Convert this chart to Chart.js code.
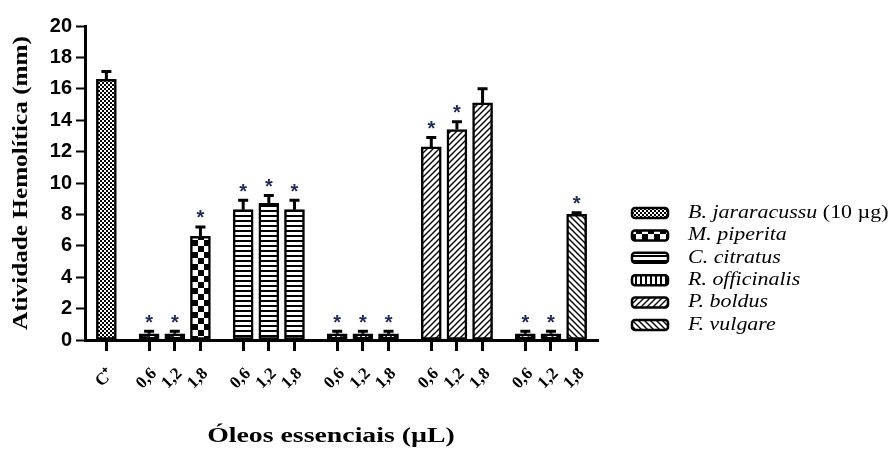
<!DOCTYPE html>
<html>
<head>
<meta charset="utf-8">
<script src="https://cdn.jsdelivr.net/npm/chart.js@4.4.1/dist/chart.umd.min.js"></script>
<style>
html, body { margin: 0; padding: 0; background: #fff; }
#wrap { width: 892px; height: 450px; }
</style>
</head>
<body>
<div id="wrap"><canvas id="barChart" width="892" height="450"></canvas></div>
<script>
// Rótulos e valores
var controlLabel = 'C\u207A';
var doseLabels = ['0,6', '1,2', '1,8'];
var seriesNames = ['B. jararacussu', 'M. piperita', 'C. citratus', 'R. officinalis', 'P. boldus', 'F. vulgare'];
var controlDose = ' (10 \u00B5g)';
var xTitle = 'Óleos essenciais (µL)';
var yTitle = 'Atividade Hemolítica (mm)';
var yTicks = [0, 2, 4, 6, 8, 10, 12, 14, 16, 18, 20];

var jararacussuValues = [16.6];
var jararacussuErrors = [0.5];
var jararacussuStars = [false];

var piperitaValues = [0.4, 0.4, 6.6];
var piperitaErrors = [0.15, 0.15, 0.6];
var piperitaStars = [true, true, true];

var citratusValues = [8.3, 8.7, 8.3];
var citratusErrors = [0.6, 0.5, 0.6];
var citratusStars = [true, true, true];

var officinalisValues = [0.4, 0.4, 0.4];
var officinalisErrors = [0.15, 0.15, 0.15];
var officinalisStars = [true, true, true];

var boldusValues = [12.3, 13.4, 15.1];
var boldusErrors = [0.6, 0.5, 0.9];
var boldusStars = [true, true, false];

var vulgareValues = [0.4, 0.4, 8.0];
var vulgareErrors = [0.15, 0.15, 0.1];
var vulgareStars = [true, true, true];

// Padrões de preenchimento (hachuras)
function makePattern(type) {
    var t = document.createElement('canvas');
    var s = 6;
    if (type === 'fine') s = 4;
    if (type === 'checker') s = 12;
    if (type === 'hline' || type === 'vline') s = 5;
    t.width = s; t.height = s;
    var c = t.getContext('2d');
    c.fillStyle = '#fff';
    c.fillRect(0, 0, s, s);
    c.fillStyle = '#000';
    c.strokeStyle = '#000';
    if (type === 'fine') {
        c.fillRect(0, 0, 2, 2);
        c.fillRect(2, 2, 2, 2);
    } else if (type === 'checker') {
        c.fillRect(0, 0, 6, 6);
        c.fillRect(6, 6, 6, 6);
    } else if (type === 'hline') {
        c.fillRect(0, 0, s, 2);
    } else if (type === 'vline') {
        c.fillRect(0, 0, 2, s);
    } else if (type === 'up' || type === 'down') {
        c.lineWidth = 1.4;
        c.beginPath();
        if (type === 'up') {
            c.moveTo(-1, s + 1); c.lineTo(s + 1, -1);
            c.moveTo(-1, 1); c.lineTo(1, -1);
            c.moveTo(s - 1, s + 1); c.lineTo(s + 1, s - 1);
        } else {
            c.moveTo(-1, -1); c.lineTo(s + 1, s + 1);
            c.moveTo(s - 1, -1); c.lineTo(s + 1, 1);
            c.moveTo(-1, s - 1); c.lineTo(1, s + 1);
        }
        c.stroke();
    }
    return c.createPattern(t, 'repeat');
}

var groups = [
    { name: seriesNames[0], cats: [controlLabel], values: jararacussuValues, errors: jararacussuErrors, stars: jararacussuStars, fill: 'fine' },
    { name: seriesNames[1], cats: doseLabels, values: piperitaValues, errors: piperitaErrors, stars: piperitaStars, fill: 'checker' },
    { name: seriesNames[2], cats: doseLabels, values: citratusValues, errors: citratusErrors, stars: citratusStars, fill: 'hline' },
    { name: seriesNames[3], cats: doseLabels, values: officinalisValues, errors: officinalisErrors, stars: officinalisStars, fill: 'vline' },
    { name: seriesNames[4], cats: doseLabels, values: boldusValues, errors: boldusErrors, stars: boldusStars, fill: 'up' },
    { name: seriesNames[5], cats: doseLabels, values: vulgareValues, errors: vulgareErrors, stars: vulgareStars, fill: 'down' }
];

// eixo de categorias com espaços vazios entre os grupos
var labels = [];
function pad(n) { for (var i = 0; i < n; i++) labels.push(''); }
pad(2);
groups.forEach(function (g, gi) {
    g.index = [];
    g.cats.forEach(function (lab, j) {
        if (gi > 0 || j > 0) pad(j === 0 ? 4 : 2);
        g.index.push(labels.length);
        labels.push(lab);
    });
});
pad(2);

var datasets = groups.map(function (g) {
    var data = labels.map(function () { return null; });
    g.index.forEach(function (idx, j) { data[idx] = g.values[j]; });
    return {
        label: g.name,
        data: data,
        errors: g.errors,
        stars: g.stars,
        slots: g.index,
        backgroundColor: makePattern(g.fill),
        borderColor: '#000',
        // barras muito baixas ficam totalmente pretas, como no original
        borderWidth: function (c) { return c.raw !== null && c.raw < 1 ? 5 : 2.5; },
        borderSkipped: false,
        barThickness: 20,
        grouped: false
    };
});

// barras de erro e asteriscos
var errorBars = {
    id: 'errorBars',
    afterDatasetsDraw: function (chart) {
        var c = chart.ctx;
        var yScale = chart.scales.y;
        chart.data.datasets.forEach(function (ds, di) {
            var meta = chart.getDatasetMeta(di);
            ds.slots.forEach(function (idx, j) {
                var el = meta.data[idx];
                var v = ds.data[idx];
                var top = yScale.getPixelForValue(v + ds.errors[j]);
                c.save();
                c.strokeStyle = '#000';
                c.lineWidth = 3;
                c.beginPath();
                c.moveTo(el.x, el.y);
                c.lineTo(el.x, top);
                c.moveTo(el.x - 5, top);
                c.lineTo(el.x + 5, top);
                c.stroke();
                if (ds.stars[j]) {
                    c.fillStyle = '#1f2a55';
                    c.font = 'bold 20px "Liberation Sans"';
                    c.textAlign = 'center';
                    c.textBaseline = 'middle';
                    c.fillText('*', el.x, top - 8);
                }
                c.restore();
            });
        });
    }
};

// texto esticado na horizontal, como no original
function wideText(c, text, x, y, sx) {
    c.save();
    c.translate(x, y);
    c.scale(sx, 1);
    c.fillText(text, 0, 0);
    c.restore();
}

// títulos dos eixos e legenda ao lado
var sideLegend = {
    id: 'sideLegend',
    afterDraw: function (chart) {
        var c = chart.ctx;
        var area = chart.chartArea;
        c.save();
        c.fillStyle = '#000';
        c.textAlign = 'center';
        c.textBaseline = 'middle';
        c.font = 'bold 20px "Liberation Serif"';
        wideText(c, xTitle, 331, 437, 1.39);
        c.translate(22, (area.top + area.bottom) / 2);
        c.rotate(-Math.PI / 2);
        c.font = 'bold 21px "Liberation Serif"';
        wideText(c, yTitle, 0, 0, 1.2);
        c.restore();

        chart.data.datasets.forEach(function (ds, i) {
            var y = 213 + i * 22.4;
            c.save();
            c.fillStyle = ds.backgroundColor;
            c.strokeStyle = '#000';
            c.lineWidth = 2.5;
            c.beginPath();
            c.roundRect(632, y - 5, 36, 10, 3);
            c.fill();
            c.stroke();
            c.fillStyle = '#000';
            c.textBaseline = 'middle';
            c.translate(688, y);
            c.scale(1.22, 1);
            c.font = 'italic 18px "Liberation Serif"';
            c.fillText(ds.label, 0, 0);
            if (i === 0) {
                var w = c.measureText(ds.label).width;
                c.font = '18px "Liberation Serif"';
                c.fillText(controlDose, w, 0);
            }
            c.restore();
        });
    }
};

window.onload = function () {
    var ctx = document.getElementById('barChart').getContext('2d');
    new Chart(ctx, {
        type: 'bar',
        data: { labels: labels, datasets: datasets },
        options: {
            responsive: false,
            animation: false,
            layout: { padding: { top: 26, right: 294, bottom: 0, left: 0 } },
            plugins: {
                legend: { display: false },
                tooltip: { enabled: false }
            },
            scales: {
                x: {
                    afterFit: function (s) { s.height = 110; },
                    border: { display: true, width: 3, color: '#000' },
                    grid: {
                        offset: false,
                        drawOnChartArea: false,
                        tickLength: 11,
                        tickWidth: 3,
                        tickColor: function (c) { return labels[c.index] ? '#000' : 'rgba(0,0,0,0)'; }
                    },
                    ticks: {
                        autoSkip: false,
                        maxRotation: 45,
                        minRotation: 45,
                        padding: 13,
                        labelOffset: 5,
                        color: '#000',
                        font: { family: '"Liberation Serif"', size: 17, weight: 'bold' }
                    }
                },
                y: {
                    min: 0,
                    max: 20,
                    afterFit: function (s) { s.width = 85; },
                    afterBuildTicks: function (s) { s.ticks = yTicks.map(function (v) { return { value: v }; }); },
                    border: { display: true, width: 3, color: '#000' },
                    grid: { drawOnChartArea: false, tickLength: 9, tickWidth: 2, color: '#000' },
                    ticks: {
                        padding: 4,
                        color: '#000',
                        font: { family: '"Liberation Sans"', size: 20, weight: 'bold' }
                    }
                }
            }
        },
        plugins: [errorBars, sideLegend]
    });
}
</script>
</body>
</html>
